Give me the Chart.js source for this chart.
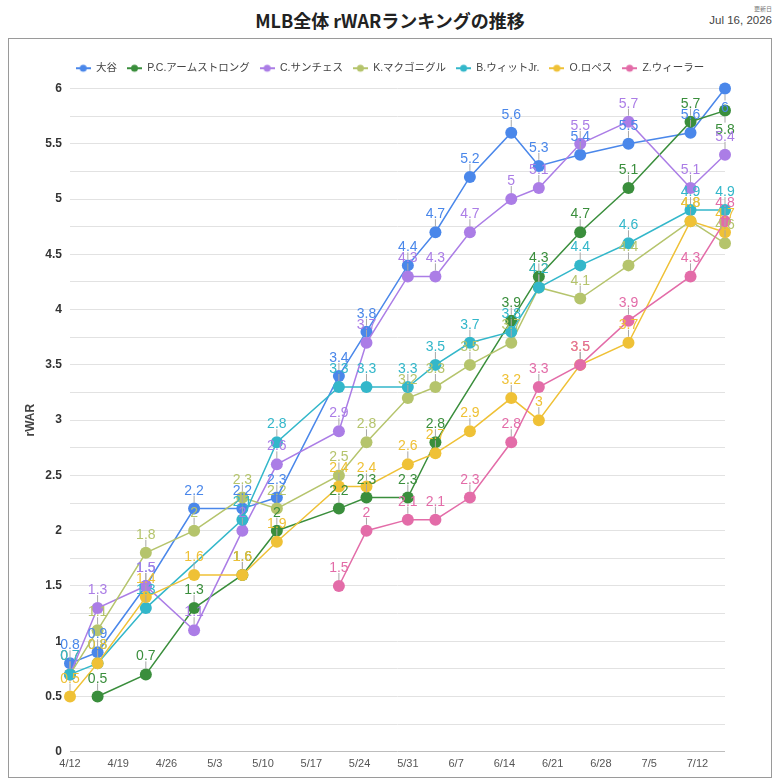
<!DOCTYPE html>
<html lang="ja">
<head>
<meta charset="utf-8">
<title>MLB全体 rWARランキングの推移</title>
<script src="https://cdn.jsdelivr.net/npm/chart.js@4"></script>
<style>
  html, body { margin: 0; padding: 0; background: #fff; }
  body { width: 780px; height: 780px; position: relative; overflow: hidden;
         font-family: "Liberation Sans", "Noto Sans CJK JP", sans-serif; }
  #title { position: absolute; left: 0; top: 7px; width: 780px; text-align: center;
           font-family: "Noto Sans CJK JP", sans-serif; font-weight: bold;
           font-size: 18px; line-height: 26px; color: #222; }
  #updated { position: absolute; right: 8px; top: 5px; text-align: right; color: #444; }
  #updated .cap { font-size: 6px; line-height: 8px; color: #777; }
  #updated .date { font-size: 11.5px; line-height: 14px; }
  #box { position: absolute; left: 8px; top: 38px; width: 762px; height: 738px;
         border: 1px solid #9a9a9a; }
</style>
</head>
<body>
<div id="title">MLB全体 rWARランキングの推移</div>
<div id="updated"><div class="cap">更新日</div><div class="date">Jul 16, 2026</div></div>
<div id="box"><canvas id="chart"></canvas></div>
<script>
// ---- data ----
const pointDates = ['4/12', '4/16', '4/23', '4/30', '5/7', '5/12', '5/21', '5/25', '5/31',
                    '6/4', '6/9', '6/15', '6/19', '6/25', '7/2', '7/11', '7/16'];
const tickDates = ['4/12', '4/19', '4/26', '5/3', '5/10', '5/17', '5/24', '5/31',
                   '6/7', '6/14', '6/21', '6/28', '7/5', '7/12'];
const endDate = '7/16';

const players = ['大谷', 'P.C.アームストロング', 'C.サンチェス', 'K.マクゴニグル',
                 'B.ウィットJr.', 'O.ロペス', 'Z.ウィーラー'];
const colors = ['#4a87ea', '#3a8e3c', '#ab7de6', '#b5c46c', '#33b7ca', '#efc136', '#e36ca8'];

const ohtani    = [0.8, 0.9, 1.5, 2.2, 2.2, 2.3, 3.4, 3.8, 4.4, 4.7, 5.2, 5.6, 5.3, 5.4, 5.5, 5.6, 6.0];
const armstrong = [null, 0.5, 0.7, 1.3, 1.6, 2.0, 2.2, 2.3, 2.3, 2.8, null, 3.9, 4.3, 4.7, 5.1, 5.7, 5.8];
const sanchez   = [0.7, 1.3, 1.5, 1.1, 2.0, 2.6, 2.9, 3.7, 4.3, 4.3, 4.7, 5.0, 5.1, 5.5, 5.7, 5.1, 5.4];
const mcgonigle = [0.7, 1.1, 1.8, 2.0, 2.3, 2.2, 2.5, 2.8, 3.2, 3.3, 3.5, 3.7, 4.2, 4.1, 4.4, 4.8, 4.6];
const witt      = [0.7, 0.8, 1.3, null, 2.1, 2.8, 3.3, 3.3, 3.3, 3.5, 3.7, 3.8, 4.2, 4.4, 4.6, 4.9, 4.9];
const lopez     = [0.5, 0.8, 1.4, 1.6, 1.6, 1.9, 2.4, 2.4, 2.6, 2.7, 2.9, 3.2, 3.0, 3.5, 3.7, 4.8, 4.7];
const wheeler   = [null, null, null, null, null, null, 1.5, 2.0, 2.1, 2.1, 2.3, 2.8, 3.3, 3.5, 3.9, 4.3, 4.8];

const seriesValues = [ohtani, armstrong, sanchez, mcgonigle, witt, lopez, wheeler];

// days since the first date
function dayOf(s) {
  const [m, d] = s.split('/').map(Number);
  return (Date.UTC(2026, m - 1, d) - Date.UTC(2026, 3, 12)) / 86400000;
}

function legendIcon(color) {
  const c = document.createElement('canvas');
  c.width = 15; c.height = 10;
  const g = c.getContext('2d');
  g.strokeStyle = color; g.lineWidth = 2;
  g.beginPath(); g.moveTo(0, 5); g.lineTo(15, 5); g.stroke();
  g.fillStyle = color;
  g.beginPath(); g.arc(7.5, 5, 3.5, 0, Math.PI * 2); g.fill();
  return c;
}
const icons = colors.map(legendIcon);

// a bit more room under the legend
const legendSpacing = {
  id: 'legendSpacing',
  beforeInit(chart) {
    const fit = chart.legend.fit;
    chart.legend.fit = function () { fit.call(this); this.height += 5; };
  }
};

// value labels with a short leader line
const pointLabels = {
  id: 'pointLabels',
  afterDatasetsDraw(chart) {
    const ctx = chart.ctx;
    const top = chart.chartArea.top;
    ctx.save();
    ctx.font = '14px "Liberation Sans", Arial, sans-serif';
    ctx.textAlign = 'center';
    ctx.lineWidth = 1;
    chart.data.datasets.forEach((ds, i) => {
      const meta = chart.getDatasetMeta(i);
      meta.data.forEach((pt, j) => {
        const txt = String(ds.data[j].y);
        const below = pt.y - 19 < top + 5;
        ctx.strokeStyle = '#a8a8a8';
        ctx.beginPath();
        if (below) {
          ctx.moveTo(pt.x, pt.y + 6); ctx.lineTo(pt.x, pt.y + 12);
        } else {
          ctx.moveTo(pt.x, pt.y - 6); ctx.lineTo(pt.x, pt.y - 13);
        }
        ctx.stroke();
        ctx.fillStyle = ds.borderColor;
        if (below) {
          ctx.textBaseline = 'top';
          ctx.fillText(txt, pt.x, pt.y + 13);
        } else {
          ctx.textBaseline = 'alphabetic';
          ctx.fillText(txt, pt.x, pt.y - 14);
        }
      });
    });
    ctx.restore();
  }
};

Chart.defaults.font.family = '"Liberation Sans", "Noto Sans CJK JP", sans-serif';

const datasets = players.map((name, i) => ({
  label: name,
  data: pointDates
    .map((d, j) => ({ x: dayOf(d), y: seriesValues[i][j] }))
    .filter(p => p.y !== null),
  borderColor: colors[i],
  backgroundColor: colors[i],
  pointBackgroundColor: colors[i],
  pointBorderWidth: 0,
  pointRadius: 6,
  pointHoverRadius: 6,
  borderWidth: 1.5,
  tension: 0,
  clip: false,
  order: -i
}));

new Chart(document.getElementById('chart'), {
  type: 'line',
  data: { datasets: datasets },
  options: {
    responsive: true,
    maintainAspectRatio: false,
    animation: false,
    layout: { padding: { top: 14, right: 0, bottom: 0, left: 0 } },
    plugins: {
      legend: {
        position: 'top',
        labels: {
          usePointStyle: true,
          pointStyleWidth: 15,
          boxHeight: 10,
          padding: 10,
          color: '#444',
          font: { size: 10.5 },
          sort: (a, b) => a.datasetIndex - b.datasetIndex,
          generateLabels(chart) {
            const items = Chart.defaults.plugins.legend.labels.generateLabels(chart);
            items.forEach(it => { it.pointStyle = icons[it.datasetIndex]; });
            return items;
          }
        }
      },
      tooltip: { enabled: false }
    },
    scales: {
      x: {
        type: 'linear',
        min: 0,
        max: dayOf(endDate),
        grid: { display: false, drawTicks: false },
        border: { display: false },
        afterBuildTicks: s => { s.ticks = tickDates.map(d => ({ value: dayOf(d) })); },
        ticks: {
          padding: 6,
          color: '#555',
          font: { size: 11 },
          autoSkip: false,
          maxRotation: 0,
          callback: (v, i) => tickDates[i]
        }
      },
      y: {
        min: 0,
        max: 6,
        afterFit: s => { s.width = 61; },
        ticks: {
          stepSize: 0.25,
          padding: 8,
          color: '#333',
          font: { size: 12, weight: 'bold' },
          callback: v => (Math.round(v * 4) % 2 === 0 ? String(v) : '')
        },
        grid: {
          color: c => (c.tick && c.tick.value === 0 ? '#bdbdbd' : '#e2e2e2'),
          drawTicks: false
        },
        border: { display: false },
        title: {
          display: true,
          text: 'rWAR',
          color: '#444',
          font: { size: 12, weight: 'bold' },
          padding: { top: 14, bottom: 0 }
        }
      },
      // empty right margin
      yRight: {
        position: 'right',
        min: 0,
        max: 6,
        afterFit: s => { s.width = 46; },
        grid: { display: false, drawTicks: false },
        border: { display: false },
        ticks: { display: false }
      }
    }
  },
  plugins: [legendSpacing, pointLabels]
});
</script>
</body>
</html>
